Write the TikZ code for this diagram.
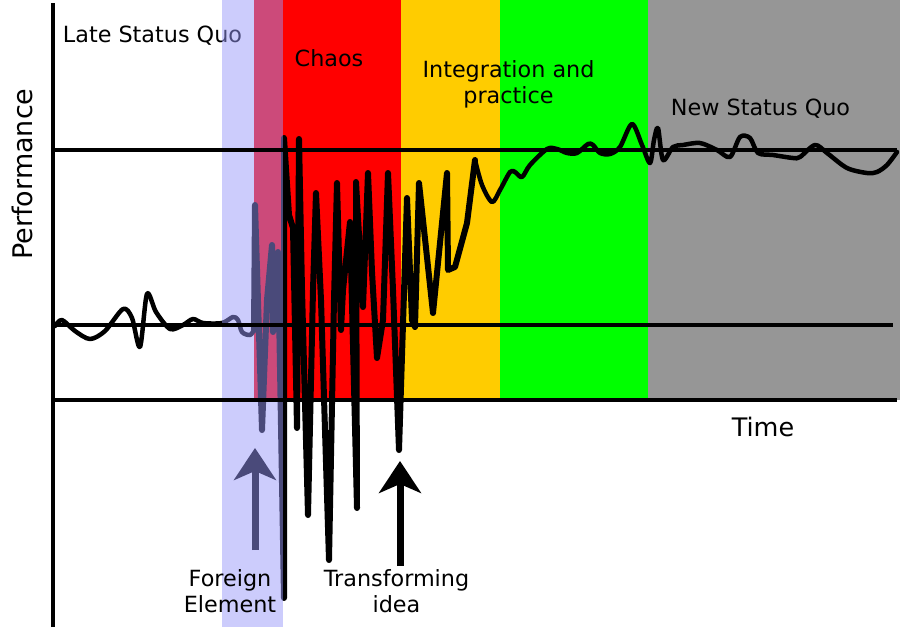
\documentclass[tikz,border=0pt]{standalone}
\usepackage{fontspec}
\setmainfont{DejaVu Sans}
\usetikzlibrary{arrows.meta}

\definecolor{chaosred}{RGB}{255,0,0}
\definecolor{integyellow}{RGB}{255,204,0}
\definecolor{practgreen}{RGB}{0,255,0}
\definecolor{newgray}{RGB}{150,150,150}
\definecolor{foreignblue}{RGB}{151,151,249}

\begin{document}
\begin{tikzpicture}[x=1pt,y=-1pt,
    axis/.style={line width=4pt},
    perf/.style={line width=4.5pt, line join=round, line cap=round},
    bigarrow/.style={line width=7pt, -{Stealth[length=32pt,width=42pt,inset=9pt]}},
    phase/.style={font=\fontsize{22.3}{26}\selectfont, align=center, inner sep=0pt}]

  \useasboundingbox (0,0) rectangle (900,627);

  % phases
  \fill[chaosred]    (254,0) rectangle (401,400);
  \fill[integyellow] (401,0) rectangle (500,400);
  \fill[practgreen]  (500,0) rectangle (648,400);
  \fill[newgray]     (648,0) rectangle (900,400);

  % performance curve
  \draw[perf] plot[smooth] coordinates {(55,326) (62,320) (75,331) (90,339)
    (105,331) (123,309) (132,318) (140,347) (147,294) (156,312) (170,329)
    (183,325) (193,319) (203,323) (222,323) (233,317) (238,320) (242,332)
    (250,335) (254,330)};
  \draw[perf, line width=6pt] plot[sharp plot] coordinates {(254,330) (255,205) (262,430)
    (267,300) (272,245) (273,332) (278,252) (284,598) (284,138) (289,215)
    (293,228) (297,428) (299,139) (302,290) (308,515) (313,290) (316,193)
    (321,300) (329,560) (334,300) (337,183) (341,330) (343,290) (350,222)
    (357,508) (356,182) (363,307) (368,173) (372,272) (377,358) (383,320)
    (388,173) (393,290) (399,450) (407,198) (412,320) (415,327) (419,183)
    (433,313) (447,173) (448,270) (455,267) (467,223) (475,160)};
  \draw[perf] plot[smooth] coordinates {(475,160) (482,185) (492,202)
    (500,190) (510,172) (515,172) (522,177) (530,165) (547,149) (557,149)
    (567,153) (577,153) (588,144) (593,145) (600,153) (610,154) (620,147)
    (632,124) (642,145) (650,163) (654,140) (658,128) (663,160) (673,147)
    (683,145) (700,143) (717,150) (730,157) (740,137) (750,138) (758,153)
    (773,155) (793,158) (800,157) (815,145) (827,153) (847,168) (867,173)
    (877,172) (887,165) (897,152)};

  % arrows
  \coordinate (foreign-tail) at (255,550);
  \coordinate (foreign-tip)  at (255,448);
  \coordinate (idea-tail)    at (400,566);
  \coordinate (idea-tip)     at (400,461);
  \draw[bigarrow] (foreign-tail) -- (foreign-tip);
  \draw[bigarrow] (idea-tail) -- (idea-tip);

  % labels
  \begin{scope}[every node/.style={phase}]
    \node[anchor=base] (late)  at (152.5,42) {Late Status Quo};
    \node[anchor=base] (chaos) at (329,66)   {Chaos};
    \node (integ)              at (508.5,84.5) {Integration and\\practice};
    \node[anchor=base] (new)   at (760.5,115) {New Status Quo};
    \node (idea)               at (396.5,591.3) {Transforming\\idea};
  \end{scope}

  % foreign element
  \fill[foreignblue, opacity=0.49] (222,0) rectangle (283,627);
  \node[phase] (foreign) at (230,591.3) {Foreign\\Element};

  % axes
  \coordinate (origin) at (53,627);
  \coordinate (top)    at (53,3);
  \coordinate (hi-l) at (53,150);  \coordinate (hi-r) at (897,150);
  \coordinate (mid-l) at (53,325); \coordinate (mid-r) at (893,325);
  \coordinate (lo-l) at (53,400);  \coordinate (lo-r) at (897,400);
  \draw[axis] (origin) -- (top);
  \draw[axis] (hi-l) -- (hi-r);
  \draw[axis] (mid-l) -- (mid-r);
  \draw[axis] (lo-l) -- (lo-r);

  \node[font=\fontsize{27}{32}\selectfont, inner sep=0pt, rotate=90,
    anchor=base] (perf) at (32,174) {Performance};
  \node[font=\fontsize{25.5}{30}\selectfont, inner sep=0pt, anchor=base]
    (time) at (763,436.7) {Time};

\end{tikzpicture}
\end{document}
